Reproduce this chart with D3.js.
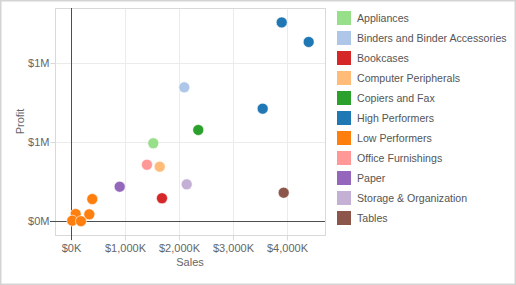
<!DOCTYPE html>
<html>
<head>
<meta charset="utf-8">
<script src="https://cdn.jsdelivr.net/npm/d3@7"></script>
<style>
  body { margin: 0; background: #fff; }
  svg { display: block; font-family: "Liberation Sans", Arial, sans-serif; }
</style>
</head>
<body>
<div id="chart"></div>
<script>
// categories and their colours
const categories = ['Appliances', 'Binders and Binder Accessories', 'Bookcases', 'Computer Peripherals',
    'Copiers and Fax', 'High Performers', 'Low Performers', 'Office Furnishings', 'Paper',
    'Storage & Organization', 'Tables'];
const colours = ['#98df8a', '#aec7e8', '#d62728', '#ffbb78', '#2ca02c', '#1f77b4', '#ff7f0e',
    '#ff9896', '#9467bd', '#c5b0d5', '#8c564b'];

// one entry per point
const pointCat = ['High Performers', 'High Performers', 'High Performers', 'Binders and Binder Accessories',
    'Copiers and Fax', 'Appliances', 'Office Furnishings', 'Computer Peripherals', 'Storage & Organization',
    'Paper', 'Tables', 'Bookcases', 'Low Performers', 'Low Performers', 'Low Performers',
    'Low Performers', 'Low Performers'];
const sales = [3902000, 4402000, 3550000, 2098000, 2357000, 1524000, 1407000, 1643000, 2143000,
    902000, 3939000, 1685000, 394000, 87000, 339000, 24000, 185000];
const profit = [1257000, 1133000, 711000, 846000, 576000, 492000, 356000, 344000, 232000,
    217000, 179000, 144000, 139000, 44000, 42000, 2000, -1000];

const xTicks = [0, 1000000, 2000000, 3000000, 4000000];
const yTicks = [0, 500000, 1000000];

const width = 516, height = 285;
const plot = {left: 55, right: 325, top: 8, bottom: 235};

const svg = d3.select('#chart').append('svg')
    .attr('width', width)
    .attr('height', height);

// outer frame
svg.append('rect')
    .attr('x', 0.75).attr('y', 0.75)
    .attr('width', width - 1.5).attr('height', height - 1.5)
    .attr('fill', 'none')
    .attr('stroke', '#d4d4d4')
    .attr('stroke-width', 1.5);

const x = d3.scaleLinear()
    .domain([-296000, 4704000])
    .range([plot.left, plot.right]);
const y = d3.scaleLinear()
    .domain([-88600, 1348000])
    .range([plot.bottom, plot.top]);

const colour = d3.scaleOrdinal().domain(categories).range(colours);

const px = v => Math.round(v) + 0.5;

// gridlines
svg.append('g')
    .selectAll('line')
    .data(xTicks)
    .join('line')
        .attr('x1', d => px(x(d))).attr('x2', d => px(x(d)))
        .attr('y1', plot.top).attr('y2', plot.bottom)
        .attr('stroke', '#ebebeb');
svg.append('g')
    .selectAll('line')
    .data(yTicks)
    .join('line')
        .attr('y1', d => px(y(d))).attr('y2', d => px(y(d)))
        .attr('x1', plot.left).attr('x2', plot.right)
        .attr('stroke', '#ebebeb');

// plot frame
svg.append('rect')
    .attr('x', plot.left + 0.5).attr('y', plot.top + 0.5)
    .attr('width', plot.right - plot.left).attr('height', plot.bottom - plot.top)
    .attr('fill', 'none')
    .attr('stroke', '#d9d9d9');

// axes: short light ticks, zero ticks drawn dark on top
const xAxis = g => g
    .attr('transform', `translate(0,${plot.bottom + 0.5})`)
    .call(d3.axisBottom(x)
        .tickValues(xTicks)
        .tickSize(5)
        .tickPadding(4)
        .tickFormat(d => '$' + d3.format(',')(d / 1000) + 'K'))
    .call(g => g.select('.domain').remove())
    .call(g => g.selectAll('.tick line').attr('stroke', '#d9d9d9'))
    .call(g => g.selectAll('.tick text')
        .attr('fill', '#666')
        .attr('font-size', '11px')
        .attr('font-family', null));
const yAxis = g => g
    .attr('transform', `translate(${plot.left + 0.5},0)`)
    .call(d3.axisLeft(y)
        .tickValues(yTicks)
        .tickSize(5)
        .tickPadding(1)
        .tickFormat(d => '$' + Math.round(d / 1e6) + 'M'))
    .call(g => g.select('.domain').remove())
    .call(g => g.selectAll('.tick line').attr('stroke', '#d9d9d9'))
    .call(g => g.selectAll('.tick text')
        .attr('fill', '#666')
        .attr('font-size', '11px')
        .attr('font-family', null));

svg.append('g').call(xAxis);
svg.append('g').call(yAxis);

// zero lines
svg.append('line')
    .attr('x1', px(x(0))).attr('x2', px(x(0)))
    .attr('y1', plot.top).attr('y2', plot.bottom + 5)
    .attr('stroke', '#4d4d4d');
svg.append('line')
    .attr('y1', px(y(0))).attr('y2', px(y(0)))
    .attr('x1', plot.left - 5).attr('x2', plot.right)
    .attr('stroke', '#4d4d4d');

svg.append('text')
    .attr('x', 190).attr('y', 266)
    .attr('text-anchor', 'middle')
    .attr('fill', '#666')
    .attr('font-size', '11px')
    .text('Sales');
svg.append('text')
    .attr('transform', `translate(24,${(plot.top + plot.bottom) / 2}) rotate(-90)`)
    .attr('text-anchor', 'middle')
    .attr('fill', '#666')
    .attr('font-size', '11px')
    .text('Profit');

// points
svg.append('g')
    .selectAll('circle')
    .data(sales)
    .join('circle')
        .attr('cx', d => x(d))
        .attr('cy', (d, i) => y(profit[i]))
        .attr('r', 5.5)
        .attr('fill', (d, i) => colour(pointCat[i]))
        .attr('stroke', '#fff')
        .attr('stroke-width', 0.6);

// legend
const legend = svg.append('g')
    .attr('transform', 'translate(337,11)');
legend.selectAll('rect')
    .data(categories)
    .join('rect')
        .attr('x', 0)
        .attr('y', (d, i) => i * 20)
        .attr('width', 14)
        .attr('height', 14)
        .attr('fill', d => colour(d));
legend.selectAll('text')
    .data(categories)
    .join('text')
        .attr('x', 20)
        .attr('y', (d, i) => i * 20 + 7)
        .attr('dy', '0.35em')
        .attr('fill', '#555')
        .attr('font-size', '10.6px')
        .text(d => d);
</script>
</body>
</html>
